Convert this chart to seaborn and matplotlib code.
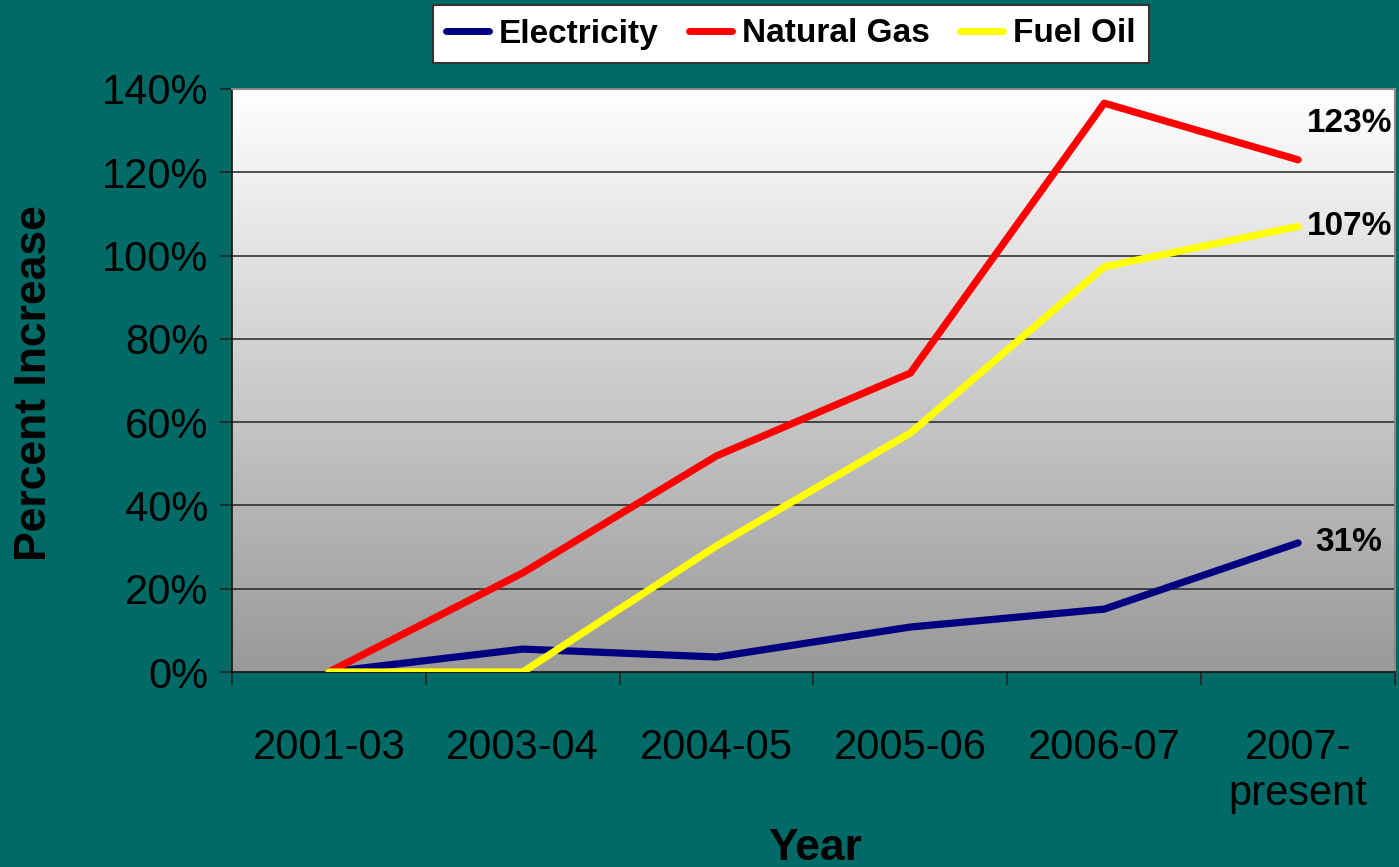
import numpy as np
import pandas as pd
import matplotlib
matplotlib.use("Agg")
import matplotlib.pyplot as plt
import seaborn as sns
from matplotlib.lines import Line2D

years = ["2001-03", "2003-04", "2004-05", "2005-06", "2006-07", "2007-\npresent"]
electricity = [0, 5.5, 3.6, 10.8, 15.1, 31]
natural_gas = [0, 23.8, 51.9, 71.8, 136.6, 123]
fuel_oil = [0, 0, 30.3, 57.4, 97.3, 107]
series = ["Electricity", "Natural Gas", "Fuel Oil"]
colors = ["#000080", "#ff0000", "#ffff00"]
end_labels = ["31%", "123%", "107%"]
yticks = [0, 20, 40, 60, 80, 100, 120, 140]

df = pd.DataFrame({
    "Year": list(range(len(years))) * 3,
    "Value": electricity + natural_gas + fuel_oil,
    "Series": [s for s in series for _ in years],
})

sns.set_style("white")
plt.rcParams['font.family'] = ['Liberation Sans', 'DejaVu Sans']
plt.rcParams['text.color'] = 'black'
plt.rcParams['xtick.color'] = 'black'
plt.rcParams['ytick.color'] = 'black'

teal = "#006b66"
fig = plt.figure(figsize=(13.99, 8.67), dpi=100, facecolor=teal)
ax = fig.add_axes([232/1399, 1-672/867, 1163/1399, 583/867])

# gradient plot area
grad = np.linspace(1, 0, 256).reshape(-1, 1)
ax.imshow(grad, cmap=matplotlib.colors.LinearSegmentedColormap.from_list("g", ["#999999", "#ffffff"]),
          aspect="auto", extent=(-0.5, 5.5, 0, 140), zorder=0)

for y in yticks[1:]:
    ax.axhline(y, color="#222222", lw=1.1, zorder=1)

sns.lineplot(data=df, x="Year", y="Value", hue="Series", palette=colors,
             hue_order=series, linewidth=5.2, ax=ax, zorder=3, legend=False,
             solid_capstyle="round")

ax.set_xlim(-0.5, 5.5)
ax.set_ylim(0, 140)
ax.set_yticks(yticks)
ax.set_yticklabels([f"{v}%" for v in yticks], fontsize=30)
ax.set_xticks(range(len(years)))
ax.set_xticklabels(years, fontsize=30, linespacing=1.2)
ax.set_xticks(np.arange(-0.5, 6, 1), minor=True)
ax.tick_params(axis="x", which="major", length=0, pad=40)
ax.tick_params(axis="x", which="minor", length=9, width=1.2, color="#222222", direction="out", bottom=True)
ax.tick_params(axis="y", length=9, width=1.2, color="#222222", direction="out", left=True, pad=8)
ax.set_xlabel("")
ax.set_ylabel("")

for side in ["left", "bottom"]:
    ax.spines[side].set_color("#111111")
    ax.spines[side].set_linewidth(1.2)
for side in ["top", "right"]:
    ax.spines[side].set_color("#888888")
    ax.spines[side].set_linewidth(1.5)

vals = [electricity, natural_gas, fuel_oil]
offsets = [(12, 0), (6, 26), (6, 0)]
for v, lab, off in zip(vals, end_labels, offsets):
    ax.annotate(lab, (5, v[-1]), xytext=off, textcoords="offset points",
                fontsize=24, fontweight="bold", ha="left", va="center",
                annotation_clip=False, zorder=4)

handles = [Line2D([0], [0], color=c, lw=5, solid_capstyle="round") for c in colors]
leg = fig.legend(handles, series, loc="center", bbox_to_anchor=(791/1399, 1-34/867),
                 ncol=3, frameon=True, fancybox=False, framealpha=1,
                 prop={"size": 24, "weight": "bold"}, handlelength=1.3,
                 handletextpad=0.3, columnspacing=0.9, borderpad=0.4,
                 edgecolor="#333333")
leg.get_frame().set_linewidth(1.5)

fig.text(35/1399, 1-383/867, "Percent Increase", rotation=90, fontsize=32,
         fontweight="bold", ha="center", va="center")
fig.text(815/1399, 1-848/867, "Year", fontsize=32, fontweight="bold",
         ha="center", va="center")

fig.savefig("out.png", dpi=100, facecolor=teal)
